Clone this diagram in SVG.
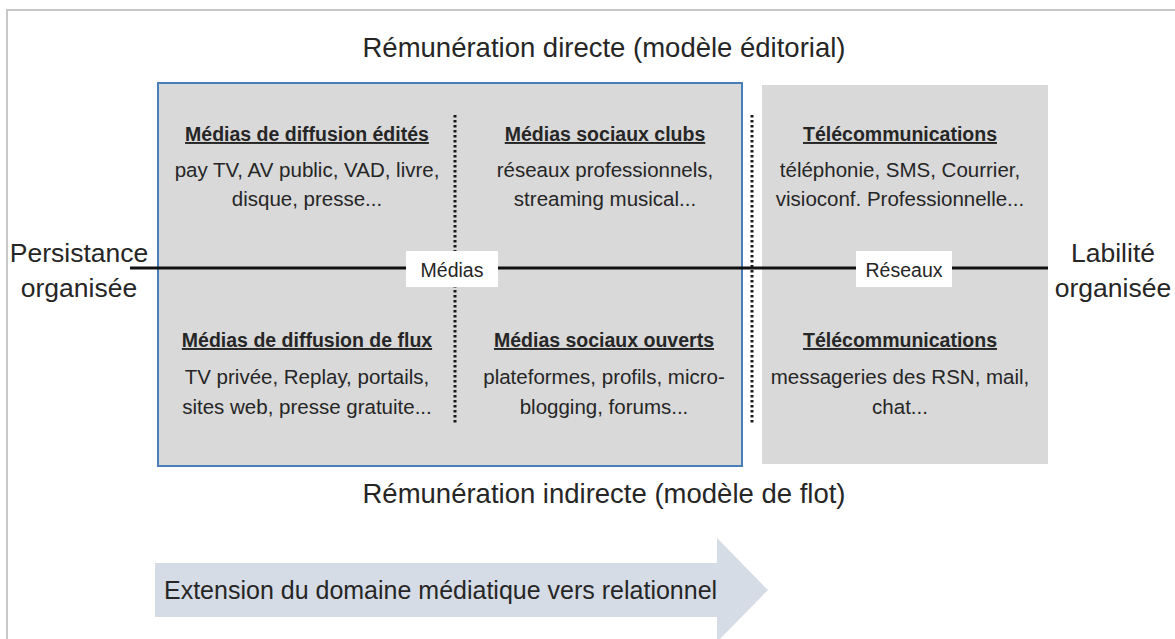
<svg xmlns="http://www.w3.org/2000/svg" width="1175" height="639" viewBox="0 0 1175 639">
<style>
text{font-family:"Liberation Sans",Arial,sans-serif;fill:#262626;}
.big{font-size:27.5px;text-anchor:middle;}
.hd{font-size:19.5px;font-weight:bold;text-decoration:underline;text-anchor:middle;}
.bd{font-size:20.5px;text-anchor:middle;}
.lbl{font-size:19.5px;text-anchor:middle;}
.side{font-size:26.5px;text-anchor:middle;}
.dot{stroke:#1a1a1a;stroke-width:3;stroke-dasharray:2.5 2.5;fill:none;}
</style>
<rect x="7" y="10" width="1180" height="640" fill="#fff" stroke="#c8c8c8" stroke-width="2"/>
<text class="big" x="604" y="57">Rémunération directe (modèle éditorial)</text>
<text class="big" x="604" y="503">Rémunération indirecte (modèle de flot)</text>
<g id="medias">
<rect x="158" y="83" width="584" height="383" fill="#d9d9d9" stroke="#4a7ebb" stroke-width="2"/>
</g>
<g id="reseaux">
<rect x="762" y="85" width="286" height="379" fill="#d9d9d9"/>
</g>
<g id="connectors">
<line x1="130" y1="268" x2="1048" y2="268" stroke="#111" stroke-width="3"/>
<line class="dot" x1="455" y1="115" x2="455" y2="425"/>
<line class="dot" x1="752" y1="115" x2="752" y2="425"/>
</g>
<g id="label-medias">
<rect x="406" y="251" width="92" height="36" fill="#fff"/>
<text class="lbl" x="452" y="277">Médias</text>
</g>
<g id="label-reseaux">
<rect x="856" y="251" width="96" height="36" fill="#fff"/>
<text class="lbl" x="904" y="277">Réseaux</text>
</g>
<g id="q-edites">
<text class="hd" x="307" y="141">Médias de diffusion édités</text>
<text class="bd" x="307" y="177">pay TV, AV public, VAD, livre,</text>
<text class="bd" x="307" y="206">disque, presse...</text>
</g>
<g id="q-clubs">
<text class="hd" x="605" y="141">Médias sociaux clubs</text>
<text class="bd" x="605" y="177">réseaux professionnels,</text>
<text class="bd" x="605" y="206">streaming musical...</text>
</g>
<g id="q-flux">
<text class="hd" x="307" y="347">Médias de diffusion de flux</text>
<text class="bd" x="307" y="384">TV privée, Replay, portails,</text>
<text class="bd" x="307" y="414">sites web, presse gratuite...</text>
</g>
<g id="q-ouverts">
<text class="hd" x="604" y="347">Médias sociaux ouverts</text>
<text class="bd" x="604" y="384">plateformes, profils, micro-</text>
<text class="bd" x="604" y="414">blogging, forums...</text>
</g>
<g id="q-telecom1">
<text class="hd" x="900" y="141">Télécommunications</text>
<text class="bd" x="900" y="177">téléphonie, SMS, Courrier,</text>
<text class="bd" x="900" y="206">visioconf. Professionnelle...</text>
</g>
<g id="q-telecom2">
<text class="hd" x="900" y="347">Télécommunications</text>
<text class="bd" x="900" y="384">messageries des RSN, mail,</text>
<text class="bd" x="900" y="414">chat...</text>
</g>
<g id="persistance">
<text class="side" x="79" y="262">Persistance</text>
<text class="side" x="79" y="297">organisée</text>
</g>
<g id="labilite">
<text class="side" x="1113" y="262">Labilité</text>
<text class="side" x="1113" y="297">organisée</text>
</g>
<g id="arrow">
<path d="M155,563 H717 V538 L768,590 L717,642 V617 H155 Z" fill="#d6dce5"/>
<text x="164" y="599" style="font-size:25px">Extension du domaine médiatique vers relationnel</text>
</g>
</svg>
